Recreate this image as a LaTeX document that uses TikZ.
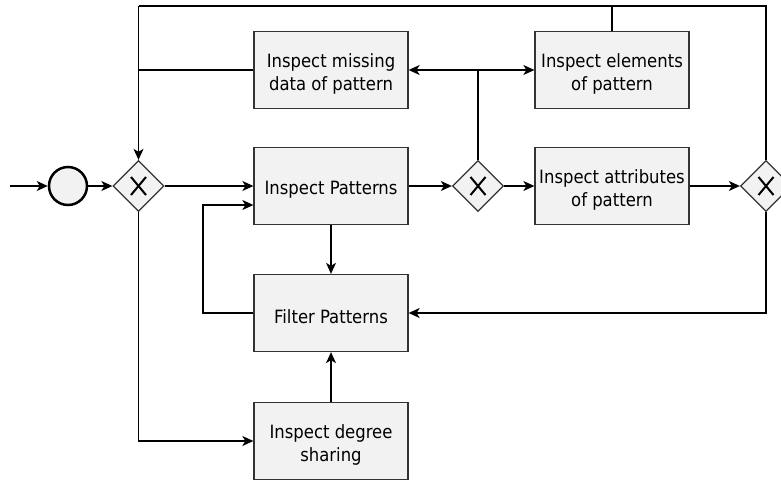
\documentclass[tikz,border=0pt]{standalone}
\usepackage{fontspec}
\setmainfont{DejaVu Sans Condensed}
\usetikzlibrary{shapes.geometric,arrows.meta}
\definecolor{boxfill}{HTML}{F2F2F2}
\definecolor{boxline}{HTML}{333333}
\begin{document}
\begin{tikzpicture}[x=1pt,y=-1pt,
  task/.style={draw=boxline,fill=boxfill,line width=1.3pt,minimum width=154pt,minimum height=77pt,inner sep=0pt},
  tasktext/.style={align=center,inner sep=0pt,yshift=-3.5pt,font=\fontsize{18.3}{23}\selectfont},
  gw/.style={draw=boxline,fill=boxfill,line width=1.3pt,diamond,minimum width=51pt,minimum height=51pt,inner sep=0pt},
  flow/.style={line width=1.3pt,-{Stealth[length=11pt,width=10pt,inset=3pt]}},
  line/.style={line width=1.3pt},
  xmark/.style={line width=2pt}]
\useasboundingbox (0,0) rectangle (781,482);
\clip (0,0) rectangle (781,482);
% start
\node[circle,draw=black,fill=boxfill,line width=2.5pt,minimum size=38pt,inner sep=0pt] (start) at (68,186) {};
\coordinate (in) at (10,186);
% gateways
\node[gw] (g1) at (138.5,186) {};
\node[gw] (g2) at (478,186) {};
\node[gw] (g3) at (766,186) {};
\foreach \g in {g1,g2,g3}{
  \draw[xmark] ([shift={(-7.5,-9)}]\g.center) -- ([shift={(7.5,9)}]\g.center);
  \draw[xmark] ([shift={(7.5,-9)}]\g.center) -- ([shift={(-7.5,9)}]\g.center);
}
% tasks
\node[task,label={[tasktext]center:{Inspect missing\\data of pattern}}] (miss) at (331,70) {};
\node[task,label={[tasktext]center:{Inspect elements\\of pattern}}] (elem) at (612,70) {};
\node[task,label={[tasktext]center:{Inspect Patterns}}] (insp) at (331,186) {};
\node[task,label={[tasktext]center:{Inspect attributes\\of pattern}}] (attr) at (612,186) {};
\node[task,label={[tasktext]center:{Filter Patterns}}] (filt) at (331,313) {};
\node[task,label={[tasktext]center:{Inspect degree\\sharing}}] (deg) at (331,441) {};
% coordinates
\coordinate (tl) at (138.5,6);
\coordinate (tr) at (766,6);
\coordinate (j2) at (478,70);
\coordinate (fb) at (203,313);
\coordinate (fbt) at (203,205);
% flows
\draw[flow] (in) -- (start);
\draw[flow] (start) -- (g1);
\draw[flow] (g1) -- (insp);
\draw[flow] (insp) -- (g2);
\draw[flow] (g2) -- (attr);
\draw[flow] (attr) -- (g3);
\draw[flow] (insp) -- (filt);
\draw[flow] (deg) -- (filt);
\draw[flow] (g1.south) |- (deg.west);
\draw[flow] (filt.west) -- (fb) -- (fbt) -- (fbt -| insp.west);
\draw[flow] (g3.south) |- (filt.east);
\draw[line] (g2.north) -- (j2);
\draw[flow] (j2) -- (miss.east);
\draw[flow] (j2) -- (elem.west);
\draw[line] (elem.north) -- (elem.north |- tl);
\draw[line] (g3.north) -- (tr) -- (tl);
\draw[flow] (tl) -- (g1.north);
\draw[line] (miss.west) -- (miss.west -| tl);
\end{tikzpicture}
\end{document}
